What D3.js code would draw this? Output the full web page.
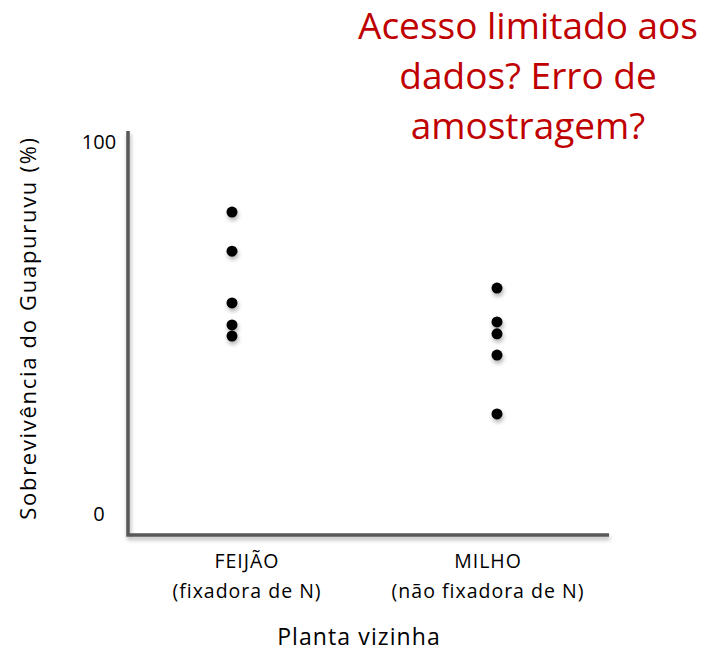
<!DOCTYPE html>
<html>
<head>
<meta charset="utf-8">
<script src="https://cdn.jsdelivr.net/npm/d3@7"></script>
<style>
  body { margin: 0; background: #fff; }
  svg text { font-family: "Open Sans", Carlito, Lato, sans-serif; fill: #000; }
  .note text { fill: #c00000; }
</style>
</head>
<body>
<svg width="702" height="656"></svg>
<script>
// categories and survival values (%)
var categories = ['FEIJÃO', 'MILHO'];
var subLabels = ['(fixadora de N)', '(não fixadora de N)'];
var feijaoValues = [81.2, 70.7, 56.8, 50.9, 47.9];
var milhoValues = [60.8, 51.7, 48.5, 42.8, 27.0];
var yTicks = [0, 100];
var noteLines = ['Acesso limitado aos', 'dados? Erro de', 'amostragem?'];

var svg = d3.select('svg');

// corner of the axes and where the plot sits
var axisX = 128, axisY = 535, axisTop = 131, axisRight = 609;

var yScale = d3.scaleLinear()
    .domain([0, 100])
    .range([514.5, 142]);

// labels sit a little off the dot columns
var xScale = d3.scalePoint()
    .domain(categories)
    .range([247, 488]);
var dotShift = [-15, 9];

var defs = svg.append('defs');
var shadow = defs.append('filter')
    .attr('id', 'shadow')
    .attr('x', '-50%').attr('y', '-50%')
    .attr('width', '200%').attr('height', '200%');
shadow.append('feDropShadow')
    .attr('dx', 1).attr('dy', 3)
    .attr('stdDeviation', 2)
    .attr('flood-color', '#000')
    .attr('flood-opacity', 0.3);

// axis lines (thick gray, with a soft shadow)
svg.append('path')
    .attr('d', 'M' + axisX + ',' + axisTop + 'V' + axisY + 'H' + axisRight)
    .attr('fill', 'none')
    .attr('stroke', '#595959')
    .attr('stroke-width', 3.5)
    .attr('filter', 'url(#shadow)');

// y ticks: only the labels, no tick marks
var yAxis = d3.axisLeft(yScale)
    .tickValues(yTicks)
    .tickSize(0)
    .tickPadding(0);
var yAxisG = svg.append('g')
    .attr('transform', 'translate(99,0)')
    .call(yAxis);
yAxisG.select('.domain').remove();
yAxisG.selectAll('text')
    .attr('text-anchor', 'middle')
    .style('font-size', '20px')
    .attr('fill', '#000');

// dots
var series = [feijaoValues, milhoValues];
var dotGroups = svg.selectAll('.dots')
    .data(series)
    .enter()
    .append('g')
    .attr('class', 'dots');

dotGroups.each(function(values, i) {
    d3.select(this).selectAll('circle')
        .data(values)
        .enter()
        .append('circle')
        .attr('cx', xScale(categories[i]) + dotShift[i])
        .attr('cy', function(d) { return yScale(d); })
        .attr('r', 5.5)
        .attr('fill', '#000')
        .attr('filter', 'url(#shadow)');
});

// category labels
var catLabels = svg.selectAll('.cat-label')
    .data(categories)
    .enter()
    .append('text')
    .attr('class', 'cat-label')
    .attr('text-anchor', 'middle')
    .style('font-size', '19.5px')
    .style('letter-spacing', '1px');
catLabels.append('tspan')
    .attr('x', function(d) { return xScale(d); })
    .attr('y', 568)
    .text(function(d) { return d; });
catLabels.append('tspan')
    .attr('x', function(d) { return xScale(d); })
    .attr('y', 598)
    .text(function(d, i) { return subLabels[i]; });

// axis titles
svg.append('text')
    .attr('transform', 'translate(359,645)')
    .attr('text-anchor', 'middle')
    .style('font-size', '23px')
    .style('letter-spacing', '1.1px')
    .text('Planta vizinha');

svg.append('text')
    .attr('transform', 'translate(36,328) rotate(-90)')
    .attr('text-anchor', 'middle')
    .style('font-size', '22px')
    .style('letter-spacing', '1.7px')
    .text('Sobrevivência do Guapuruvu (%)');

// red note in the top right
svg.append('g')
    .attr('class', 'note')
    .selectAll('text')
    .data(noteLines)
    .enter()
    .append('text')
    .attr('x', 528)
    .attr('y', function(d, i) { return 39 + i * 50; })
    .attr('text-anchor', 'middle')
    .style('font-size', '37px')
    .text(function(d) { return d; });
</script>
</body>
</html>
